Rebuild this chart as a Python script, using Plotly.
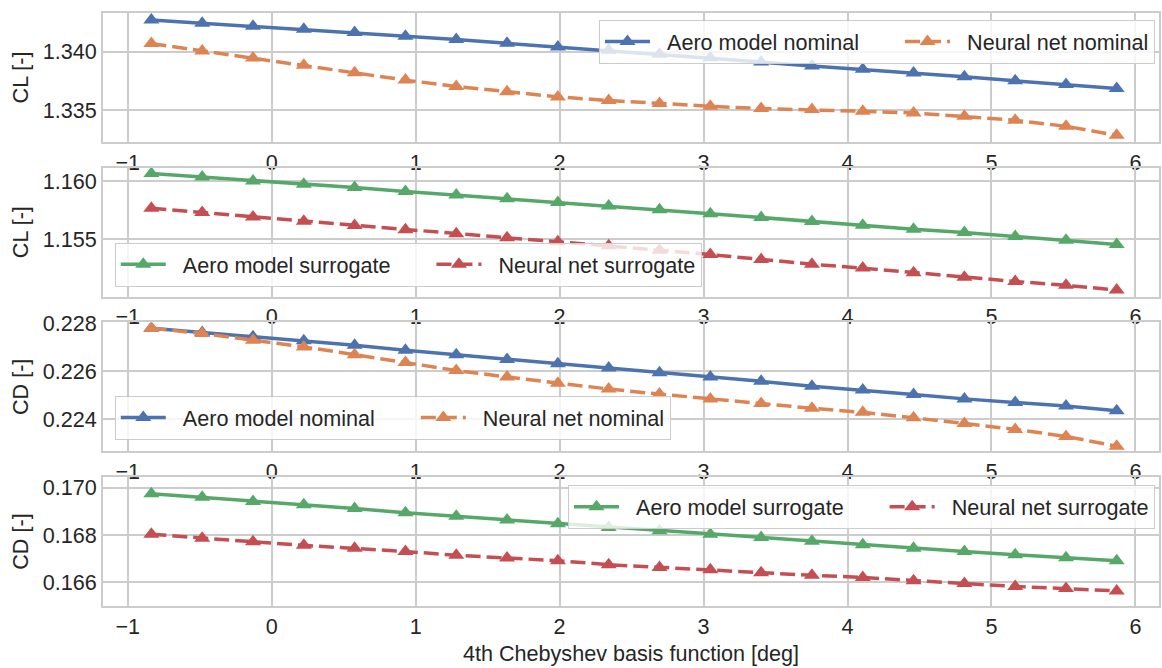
import plotly.graph_objects as go
from plotly.subplots import make_subplots

x_deg = [-0.836, -0.483, -0.130, 0.223, 0.576, 0.929, 1.282, 1.635, 1.988, 2.341,
         2.694, 3.047, 3.400, 3.753, 4.106, 4.459, 4.812, 5.165, 5.518, 5.870]

cl_aero_nominal = [1.34271, 1.34243, 1.34217, 1.34191, 1.34163, 1.34131, 1.34103, 1.34071, 1.34040, 1.34011,
                   1.33977, 1.33949, 1.33911, 1.33877, 1.33849, 1.33817, 1.33786, 1.33751, 1.33720, 1.33686]
cl_nn_nominal = [1.34069, 1.34006, 1.33946, 1.33883, 1.33820, 1.33757, 1.33703, 1.33657, 1.33614, 1.33583,
                 1.33557, 1.33534, 1.33514, 1.33506, 1.33491, 1.33477, 1.33449, 1.33414, 1.33363, 1.33286]

cl_aero_surrogate = [1.16066, 1.16037, 1.16003, 1.15974, 1.15946, 1.15911, 1.15880, 1.15849, 1.15817, 1.15786,
                     1.15754, 1.15720, 1.15686, 1.15651, 1.15620, 1.15586, 1.15557, 1.15523, 1.15489, 1.15454]
cl_nn_surrogate = [1.15766, 1.15729, 1.15691, 1.15654, 1.15617, 1.15580, 1.15546, 1.15511, 1.15477, 1.15443,
                   1.15403, 1.15366, 1.15323, 1.15283, 1.15249, 1.15209, 1.15171, 1.15134, 1.15100, 1.15060]

cd_aero_nominal = [0.22779, 0.22761, 0.22743, 0.22727, 0.22708, 0.22687, 0.22669, 0.22649, 0.22631, 0.22613,
                   0.22594, 0.22576, 0.22558, 0.22538, 0.22522, 0.22503, 0.22485, 0.22470, 0.22455, 0.22436]
cd_nn_nominal = [0.22779, 0.22757, 0.22729, 0.22701, 0.22669, 0.22636, 0.22603, 0.22576, 0.22550, 0.22526,
                 0.22505, 0.22485, 0.22466, 0.22446, 0.22429, 0.22407, 0.22383, 0.22358, 0.22329, 0.22288]

cd_aero_surrogate = [0.16975, 0.16960, 0.16942, 0.16928, 0.16912, 0.16894, 0.16879, 0.16863, 0.16848, 0.16832,
                     0.16818, 0.16803, 0.16789, 0.16773, 0.16759, 0.16744, 0.16730, 0.16716, 0.16703, 0.16691]
cd_nn_surrogate = [0.16803, 0.16786, 0.16771, 0.16756, 0.16744, 0.16730, 0.16714, 0.16702, 0.16691, 0.16674,
                   0.16662, 0.16653, 0.16640, 0.16629, 0.16620, 0.16606, 0.16594, 0.16582, 0.16573, 0.16563]

y_titles = ["CL [-]", "CL [-]", "CD [-]", "CD [-]"]
y_ranges = [[1.3323, 1.3433], [1.15003, 1.16117], [0.22267, 0.22803], [0.16499, 0.17045]]
y_ticks = [[1.335, 1.340], [1.155, 1.160], [0.224, 0.226, 0.228], [0.166, 0.168, 0.170]]
x_ticks = [-1, 0, 1, 2, 3, 4, 5, 6]
x_title = "4th Chebyshev basis function [deg]"

BLUE, ORANGE, GREEN, RED = "#4C72B0", "#DD8452", "#55A868", "#C44E52"
FONT = "Liberation Sans, Arial, sans-serif"
TXT = "#262626"
GRID = "#cccccc"
NB = "\u00a0"
FS = 21.6

fig = make_subplots(rows=4, cols=1, vertical_spacing=0.0436)

panels = [
    (cl_aero_nominal, cl_nn_nominal, "Aero model nominal", "Neural net nominal", BLUE, ORANGE, "legend"),
    (cl_aero_surrogate, cl_nn_surrogate, "Aero model surrogate", "Neural net surrogate", GREEN, RED, "legend2"),
    (cd_aero_nominal, cd_nn_nominal, "Aero model nominal", "Neural net nominal", BLUE, ORANGE, "legend3"),
    (cd_aero_surrogate, cd_nn_surrogate, "Aero model surrogate", "Neural net surrogate", GREEN, RED, "legend4"),
]

for i, (ya, yn, na, nn, ca, cn, lg) in enumerate(panels):
    r = i + 1
    fig.add_trace(go.Scatter(x=x_deg, y=ya, name=NB * 2 + na + NB * 6, mode="lines+markers",
                             line=dict(color=ca, width=3.5),
                             marker=dict(symbol="triangle-up", size=14, color=ca),
                             legend=lg), row=r, col=1)
    fig.add_trace(go.Scatter(x=x_deg, y=yn, name=NB * 2 + nn, mode="lines+markers",
                             line=dict(color=cn, width=3.5, dash="15px,6px"),
                             marker=dict(symbol="triangle-up", size=14, color=cn),
                             legend=lg), row=r, col=1)
    fig.update_yaxes(row=r, col=1, range=y_ranges[i], tickvals=y_ticks[i],
                     tickformat=".3f",
                     title=dict(text=y_titles[i], font=dict(size=FS, color=TXT), standoff=8))
    fig.update_xaxes(row=r, col=1, range=[-1.172, 6.164], tickvals=x_ticks)

fig.update_xaxes(title=dict(text=x_title, font=dict(size=FS, color=TXT), standoff=8), row=4, col=1)

fig.update_xaxes(showgrid=True, gridcolor=GRID, gridwidth=2, showline=True, linecolor=GRID,
                 linewidth=2, mirror=True, ticks="", zeroline=False,
                 tickfont=dict(size=FS, color=TXT, family=FONT))
fig.update_yaxes(showgrid=True, gridcolor=GRID, gridwidth=2, showline=True, linecolor=GRID,
                 linewidth=2, mirror=True, ticks="", zeroline=False,
                 tickfont=dict(size=FS, color=TXT, family=FONT))

leg_common = dict(orientation="h", bgcolor="rgba(255,255,255,0.8)", bordercolor=GRID,
                  borderwidth=1, font=dict(size=FS, color=TXT, family=FONT),
                  itemwidth=45, tracegroupgap=0)

fig.update_layout(
    width=1162, height=668,
    margin=dict(l=103, r=1, t=10, b=62),
    paper_bgcolor="white", plot_bgcolor="white",
    font=dict(family=FONT, color=TXT, size=FS),
    showlegend=True,
    legend=dict(x=0.9962, y=0.9883, xanchor="right", yanchor="top", **leg_common),
    legend2=dict(x=0.01115, y=0.5386, xanchor="left", yanchor="bottom", **leg_common),
    legend3=dict(x=0.01115, y=0.2802, xanchor="left", yanchor="bottom", **leg_common),
    legend4=dict(x=0.9962, y=0.2039, xanchor="right", yanchor="top", **leg_common),
)

fig.write_html("out.html")
